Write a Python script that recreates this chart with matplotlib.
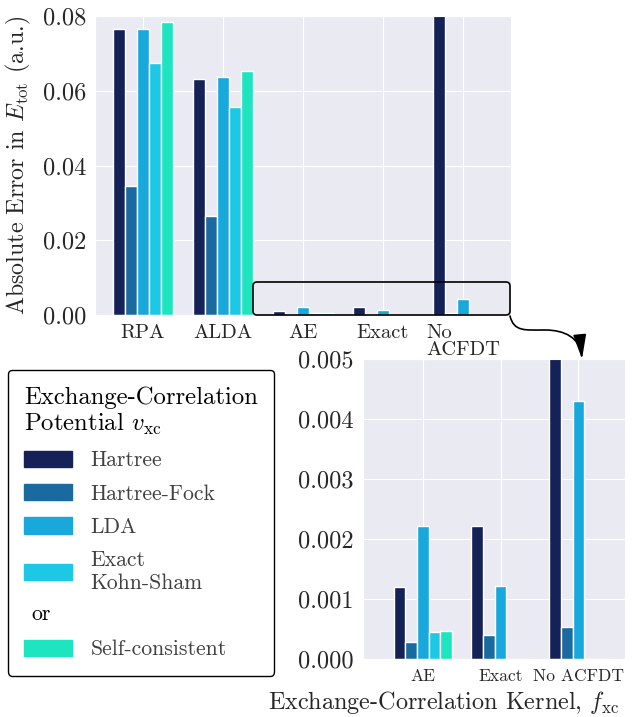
import matplotlib
matplotlib.use('Agg')
import matplotlib.pyplot as plt
import matplotlib.patches as mpatches
from matplotlib.path import Path
from matplotlib.text import Text
from matplotlib.legend_handler import HandlerBase
import numpy as np
import seaborn as sns

sns.set_style('darkgrid')
plt.rcParams['font.family'] = ['cmr10', 'DejaVu Serif']
plt.rcParams['mathtext.fontset'] = 'cm'
plt.rcParams['axes.unicode_minus'] = False
plt.rcParams['axes.formatter.use_mathtext'] = True

# data
kernels = ['RPA', 'ALDA', 'AE', 'Exact', 'No\nACFDT']
inset_labels = ['AE', 'Exact', 'No ACFDT']
potentials = ['Hartree', 'Hartree-Fock', 'LDA', 'Exact\nKohn-Sham', 'Self-consistent']
colors = ['#142257', '#1a6aa0', '#18a8dc', '#1cc8e4', '#1ee4c0']

hartree = [0.0765, 0.0631, 0.00120, 0.00222, 0.0850]
hartree_fock = [0.0345, 0.0265, 0.00029, 0.00040, 0.00054]
lda = [0.0765, 0.0637, 0.00222, 0.00122, 0.00430]
exact_ks = [0.0675, 0.0556, 0.00045, 0.0, 0.00001]
self_consistent = [0.0784, 0.0653, 0.00047, 0.00001, 0.0]
series = [hartree, hartree_fock, lda, exact_ks, self_consistent]

W, H = 633, 717
fig = plt.figure(figsize=(W / 100, H / 100), dpi=100)

def px(x0, y0, x1, y1):
    return [x0 / W, 1 - y1 / H, (x1 - x0) / W, (y1 - y0) / H]

ax = fig.add_axes(px(95, 16, 511, 315))
axin = fig.add_axes(px(363, 359.3, 625, 659.3))

x = np.arange(len(kernels))
bw = 0.15
for i, (vals, c) in enumerate(zip(series, colors)):
    ax.bar(x + (i - 2) * bw, vals, bw, color=c, zorder=2)
    axin.bar(x[2:] + (i - 2) * bw, vals[2:], bw, color=c, zorder=2)

ax.set_xlim(-0.6, 4.6)
ax.set_ylim(0, 0.08)
ax.set_yticks([0, 0.02, 0.04, 0.06, 0.08])
ax.set_yticklabels(['%.2f' % v for v in [0, 0.02, 0.04, 0.06, 0.08]], fontsize=17.5)
ax.set_xticks(x)
ax.set_xticklabels(kernels, fontsize=14.8, multialignment='left',
                   linespacing=0.95)
ax.tick_params(axis='x', pad=3)
ax.tick_params(axis='y', pad=3)
ax.set_ylabel(r'Absolute Error in $E_{\rm tot}$ (a.u.)', fontsize=17.3, labelpad=7)

axin.set_xlim(1.23, 4.6)
axin.set_ylim(0, 0.005)
yt = [0, 0.001, 0.002, 0.003, 0.004, 0.005]
axin.set_yticks(yt)
axin.set_yticklabels(['%.3f' % v for v in yt], fontsize=17.5)
axin.set_xticks(x[2:])
axin.set_xticklabels(inset_labels, fontsize=12.6)
axin.tick_params(axis='x', pad=3)
axin.tick_params(axis='y', pad=3)

fig.text(619 / W, 1 - 703 / H, r'Exchange-Correlation Kernel, $f_{\rm xc}$',
         fontsize=17.4, ha='right', va='center', color='.15')

# zoom box on main axes
box = mpatches.FancyBboxPatch((1.375, 0), 4.5875 - 1.375, 0.00883,
                              boxstyle='round,pad=0,rounding_size=0.05',
                              mutation_aspect=0.0214, fc='none', ec='black',
                              lw=1.2, zorder=5, clip_on=False,
                              transform=ax.transData)
ax.add_patch(box)

# curved arrow
pts = [(510, 316), (514, 332), (525, 330), (545, 330),
       (565, 330), (580, 338), (582, 359)]
pts = [(a / W, 1 - b / H) for a, b in pts]
codes = [Path.MOVETO] + [Path.CURVE4] * 6
arrow = mpatches.FancyArrowPatch(path=Path(pts, codes),
                                 arrowstyle='-|>,head_length=0.75,head_width=0.2',
                                 mutation_scale=20, color='black', lw=1.2,
                                 transform=fig.transFigure)
fig.patches.append(arrow)


class OrHandler(HandlerBase):
    def create_artists(self, legend, orig_handle, xdescent, ydescent,
                       width, height, fontsize, trans):
        t = Text(-xdescent + 0.15 * width, -ydescent + height / 2, 'or',
                 fontsize=fontsize, va='center', ha='left', color='black',
                 transform=trans)
        return [t]


class OrMarker:
    pass


handles = [mpatches.Patch(color=c) for c in colors]
labels = list(potentials)
handles.insert(4, OrMarker())
labels.insert(4, '')
leg = fig.legend(handles, labels, loc='upper left',
                 bbox_to_anchor=(8 / W, 1 - 370 / H), borderaxespad=0,
                 title='Exchange-Correlation\nPotential $v_{\\rm xc}$',
                 fontsize=15.6, title_fontsize=17.8, alignment='left',
                 handlelength=2.2, handleheight=0.78, handletextpad=0.85,
                 labelspacing=0.63, borderpad=0.75, frameon=True,
                 fancybox=True, framealpha=1, facecolor='white',
                 edgecolor='black', handler_map={OrMarker: OrHandler()})
leg.get_frame().set_linewidth(1.0)
leg.get_title().set_color('black')
leg.get_title().set_linespacing(1.1)
for t in leg.get_texts():
    t.set_color('.25')

fig.savefig('out.png', dpi=100)
